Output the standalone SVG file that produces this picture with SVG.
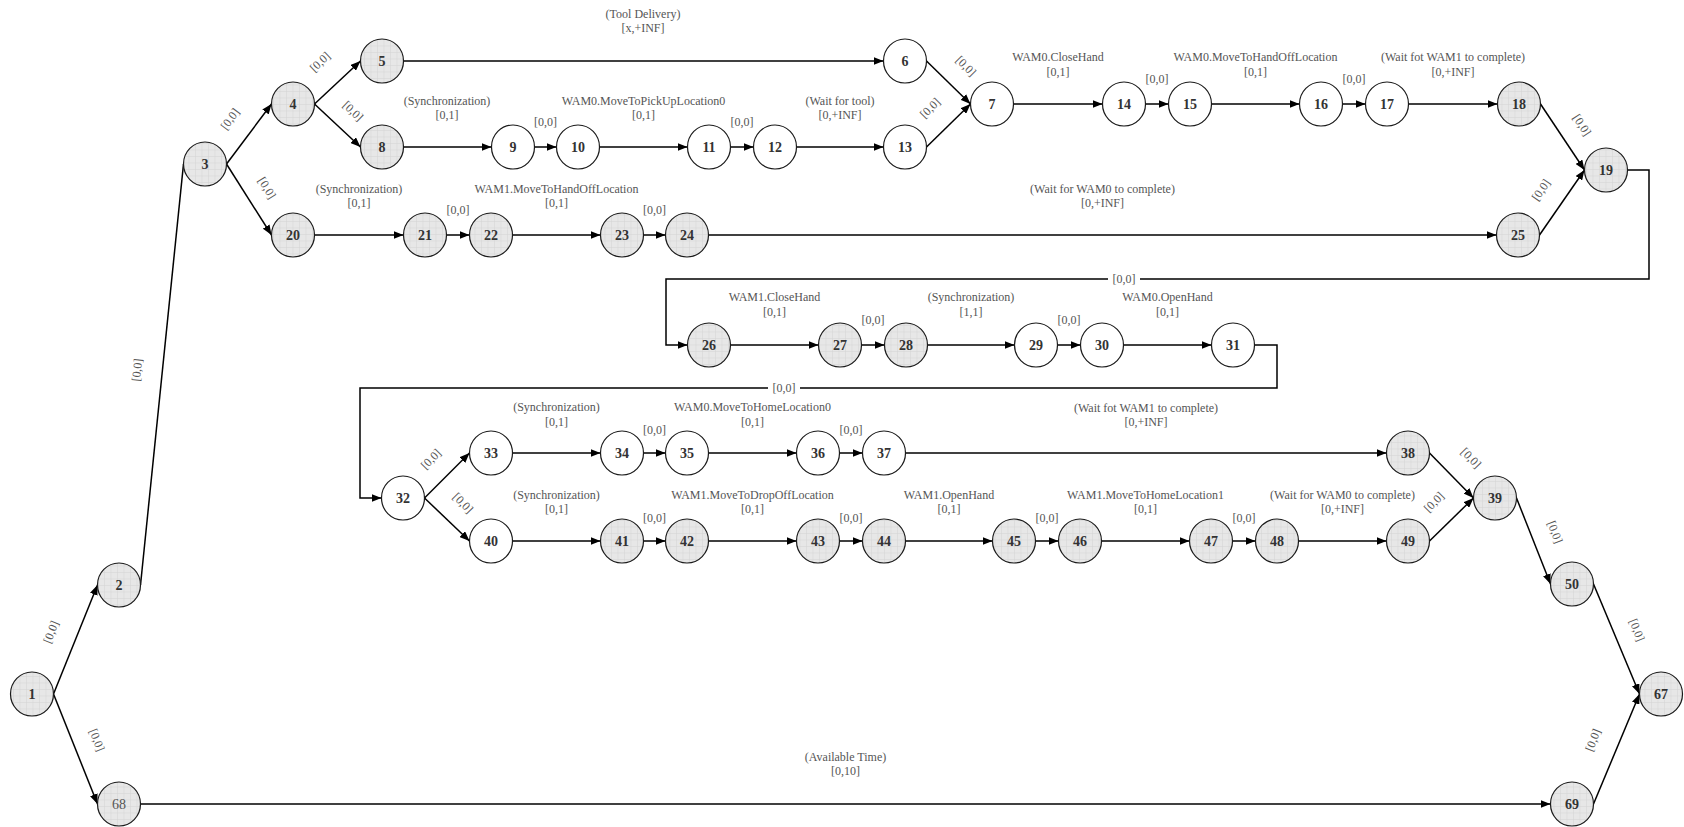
<svg xmlns="http://www.w3.org/2000/svg" width="1684" height="827" viewBox="0 0 1684 827">
<style>
.g ellipse{fill:url(#grid)}
.w ellipse{fill:#fff}
ellipse{stroke:#1a1a1a;stroke-width:1.2}
.nl{font-family:"Liberation Serif","Times New Roman",serif;font-size:14px;font-weight:bold;fill:#333;text-anchor:middle}
.nl2{font-family:"Liberation Serif","Times New Roman",serif;font-size:14px;fill:#555;text-anchor:middle}
.el{font-family:"Liberation Serif","Times New Roman",serif;font-size:12px;fill:#555;text-anchor:middle}
.e{stroke:#000;stroke-width:1.5;fill:none;marker-end:url(#arr)}
.e0{stroke:#000;stroke-width:1.5;fill:none}
</style>
<defs>
<pattern id="grid" width="6.5" height="6.5" patternUnits="userSpaceOnUse">
<rect width="6.5" height="6.5" fill="#e7e7e7"/>
<path d="M0,0.3H6.5M0.3,0V6.5" stroke="#d3d3d3" stroke-width="0.6"/>
</pattern>
<marker id="arr" markerUnits="userSpaceOnUse" markerWidth="10" markerHeight="8" refX="10" refY="4" orient="auto">
<path d="M0,0L10,4L0,8z" fill="#000"/>
</marker>
</defs>
<rect width="1684" height="827" fill="#fff"/>

<g id="connectors">
<path class="e" d="M53.5,694L97.5,585"/>
<path class="e" d="M53.5,694L97.5,804"/>
<path class="e0" d="M140.5,585L183.5,164"/>
<path class="e" d="M226.5,164L271.5,104"/>
<path class="e" d="M226.5,164L271.5,235"/>
<path class="e" d="M314.5,104L360.5,61"/>
<path class="e" d="M314.5,104L360.5,147"/>
<path class="e" d="M403.5,61H883.5"/>
<path class="e" d="M403.5,147H491.5"/>
<path class="e" d="M534.5,147H556.5"/>
<path class="e" d="M599.5,147H687.5"/>
<path class="e" d="M730.5,147H753.5"/>
<path class="e" d="M796.5,147H883.5"/>
<path class="e" d="M926.5,61L970.5,104"/>
<path class="e" d="M926.5,147L970.5,104"/>
<path class="e" d="M1013.5,104H1102.5"/>
<path class="e" d="M1145.5,104H1168.5"/>
<path class="e" d="M1211.5,104H1299.5"/>
<path class="e" d="M1342.5,104H1365.5"/>
<path class="e" d="M1408.5,104H1497.5"/>
<path class="e" d="M1540.5,104L1584.5,170"/>
<path class="e" d="M314.5,235H403.5"/>
<path class="e" d="M446.5,235H469.5"/>
<path class="e" d="M512.5,235H600.5"/>
<path class="e" d="M643.5,235H665.5"/>
<path class="e" d="M708.5,235H1496.5"/>
<path class="e" d="M1539.5,235L1584.5,170"/>
<path class="e" d="M1627.5,170H1649V279H666V345H687.5"/>
<path class="e" d="M730.5,345H818.5"/>
<path class="e" d="M861.5,345H884.5"/>
<path class="e" d="M927.5,345H1014.5"/>
<path class="e" d="M1057.5,345H1080.5"/>
<path class="e" d="M1123.5,345H1211.5"/>
<path class="e" d="M1254.5,345H1277V388H360V498H381.5"/>
<path class="e" d="M424.5,498L469.5,453"/>
<path class="e" d="M424.5,498L469.5,541"/>
<path class="e" d="M512.5,453H600.5"/>
<path class="e" d="M643.5,453H665.5"/>
<path class="e" d="M708.5,453H796.5"/>
<path class="e" d="M839.5,453H862.5"/>
<path class="e" d="M905.5,453H1386.5"/>
<path class="e" d="M1429.5,453L1473.5,498"/>
<path class="e" d="M512.5,541H600.5"/>
<path class="e" d="M643.5,541H665.5"/>
<path class="e" d="M708.5,541H796.5"/>
<path class="e" d="M839.5,541H862.5"/>
<path class="e" d="M905.5,541H992.5"/>
<path class="e" d="M1035.5,541H1058.5"/>
<path class="e" d="M1101.5,541H1189.5"/>
<path class="e" d="M1232.5,541H1255.5"/>
<path class="e" d="M1298.5,541H1386.5"/>
<path class="e" d="M1429.5,541L1473.5,498"/>
<path class="e" d="M1516.5,498L1550.5,584"/>
<path class="e" d="M1593.5,584L1639.5,694"/>
<path class="e" d="M140.5,804H1550.5"/>
<path class="e" d="M1593.5,804L1639.5,694"/>
</g>

<g id="edge-labels">
<text class="el" x="643" y="18">(Tool Delivery)</text>
<text class="el" x="643" y="32">[x,+INF]</text>
<text class="el" x="447" y="105">(Synchronization)</text>
<text class="el" x="447" y="119">[0,1]</text>
<text class="el" x="545.5" y="126">[0,0]</text>
<text class="el" x="643.5" y="105">WAM0.MoveToPickUpLocation0</text>
<text class="el" x="643.5" y="119">[0,1]</text>
<text class="el" x="742" y="126">[0,0]</text>
<text class="el" x="840" y="105">(Wait for tool)</text>
<text class="el" x="840" y="119">[0,+INF]</text>
<text class="el" x="1058" y="61">WAM0.CloseHand</text>
<text class="el" x="1058" y="76">[0,1]</text>
<text class="el" x="1157" y="83">[0,0]</text>
<text class="el" x="1255.5" y="61">WAM0.MoveToHandOffLocation</text>
<text class="el" x="1255.5" y="76">[0,1]</text>
<text class="el" x="1354" y="83">[0,0]</text>
<text class="el" x="1453" y="61">(Wait fot WAM1 to complete)</text>
<text class="el" x="1453" y="76">[0,+INF]</text>
<text class="el" x="359" y="193">(Synchronization)</text>
<text class="el" x="359" y="207">[0,1]</text>
<text class="el" x="458" y="214">[0,0]</text>
<text class="el" x="556.5" y="193">WAM1.MoveToHandOffLocation</text>
<text class="el" x="556.5" y="207">[0,1]</text>
<text class="el" x="654.5" y="214">[0,0]</text>
<text class="el" x="1102.5" y="193">(Wait for WAM0 to complete)</text>
<text class="el" x="1102.5" y="207">[0,+INF]</text>
<rect x="1108" y="272" width="32" height="14" fill="#fff"/>
<text class="el" x="1124" y="283">[0,0]</text>
<text class="el" x="774.5" y="301">WAM1.CloseHand</text>
<text class="el" x="774.5" y="316">[0,1]</text>
<text class="el" x="873" y="324">[0,0]</text>
<text class="el" x="971" y="301">(Synchronization)</text>
<text class="el" x="971" y="316">[1,1]</text>
<text class="el" x="1069" y="324">[0,0]</text>
<text class="el" x="1167.5" y="301">WAM0.OpenHand</text>
<text class="el" x="1167.5" y="316">[0,1]</text>
<rect x="768" y="381" width="32" height="14" fill="#fff"/>
<text class="el" x="784" y="392">[0,0]</text>
<text class="el" x="556.5" y="411">(Synchronization)</text>
<text class="el" x="556.5" y="426">[0,1]</text>
<text class="el" x="654.5" y="434">[0,0]</text>
<text class="el" x="752.5" y="411">WAM0.MoveToHomeLocation0</text>
<text class="el" x="752.5" y="426">[0,1]</text>
<text class="el" x="851" y="434">[0,0]</text>
<text class="el" x="1146" y="412">(Wait fot WAM1 to complete)</text>
<text class="el" x="1146" y="426">[0,+INF]</text>
<text class="el" x="556.5" y="499">(Synchronization)</text>
<text class="el" x="556.5" y="513">[0,1]</text>
<text class="el" x="654.5" y="522">[0,0]</text>
<text class="el" x="752.5" y="499">WAM1.MoveToDropOffLocation</text>
<text class="el" x="752.5" y="513">[0,1]</text>
<text class="el" x="851" y="522">[0,0]</text>
<text class="el" x="949" y="499">WAM1.OpenHand</text>
<text class="el" x="949" y="513">[0,1]</text>
<text class="el" x="1047" y="522">[0,0]</text>
<text class="el" x="1145.5" y="499">WAM1.MoveToHomeLocation1</text>
<text class="el" x="1145.5" y="513">[0,1]</text>
<text class="el" x="1244" y="522">[0,0]</text>
<text class="el" x="1342.5" y="499">(Wait for WAM0 to complete)</text>
<text class="el" x="1342.5" y="513">[0,+INF]</text>
<text class="el" x="845.5" y="761">(Available Time)</text>
<text class="el" x="845.5" y="775">[0,10]</text>
<text class="el" transform="translate(51,632) rotate(-68.5)" y="4">[0,0]</text>
<text class="el" transform="translate(97,740) rotate(68.6)" y="4">[0,0]</text>
<text class="el" transform="translate(137,370) rotate(-84.3)" y="4">[0,0]</text>
<text class="el" transform="translate(230,119) rotate(-53.7)" y="4">[0,0]</text>
<text class="el" transform="translate(267,188) rotate(58.2)" y="4">[0,0]</text>
<text class="el" transform="translate(320,62) rotate(-43.7)" y="4">[0,0]</text>
<text class="el" transform="translate(353,111) rotate(43.7)" y="4">[0,0]</text>
<text class="el" transform="translate(966,66) rotate(45)" y="4">[0,0]</text>
<text class="el" transform="translate(930,108) rotate(-45)" y="4">[0,0]</text>
<text class="el" transform="translate(1582,125) rotate(56.9)" y="4">[0,0]</text>
<text class="el" transform="translate(1541,190) rotate(-55.5)" y="4">[0,0]</text>
<text class="el" transform="translate(431,459) rotate(-45.6)" y="4">[0,0]</text>
<text class="el" transform="translate(463,503) rotate(45.6)" y="4">[0,0]</text>
<text class="el" transform="translate(1471,458) rotate(45.6)" y="4">[0,0]</text>
<text class="el" transform="translate(1434,502) rotate(-45.6)" y="4">[0,0]</text>
<text class="el" transform="translate(1555,532) rotate(69)" y="4">[0,0]</text>
<text class="el" transform="translate(1637,630) rotate(68.6)" y="4">[0,0]</text>
<text class="el" transform="translate(1593,740) rotate(-68.6)" y="4">[0,0]</text>
</g>

<g id="n1" class="g"><ellipse cx="32" cy="694" rx="21.5" ry="22"/><text class="nl" x="32" y="699">1</text></g>
<g id="n2" class="g"><ellipse cx="119" cy="585" rx="21.5" ry="22"/><text class="nl" x="119" y="590">2</text></g>
<g id="n68" class="g"><ellipse cx="119" cy="804" rx="21.5" ry="22"/><text class="nl2" x="119" y="809">68</text></g>
<g id="n3" class="g"><ellipse cx="205" cy="164" rx="21.5" ry="22"/><text class="nl" x="205" y="169">3</text></g>
<g id="n4" class="g"><ellipse cx="293" cy="104" rx="21.5" ry="22"/><text class="nl" x="293" y="109">4</text></g>
<g id="n5" class="g"><ellipse cx="382" cy="61" rx="21.5" ry="22"/><text class="nl" x="382" y="66">5</text></g>
<g id="n8" class="g"><ellipse cx="382" cy="147" rx="21.5" ry="22"/><text class="nl" x="382" y="152">8</text></g>
<g id="n20" class="g"><ellipse cx="293" cy="235" rx="21.5" ry="22"/><text class="nl" x="293" y="240">20</text></g>
<g id="n9" class="w"><ellipse cx="513" cy="147" rx="21.5" ry="22"/><text class="nl" x="513" y="152">9</text></g>
<g id="n10" class="w"><ellipse cx="578" cy="147" rx="21.5" ry="22"/><text class="nl" x="578" y="152">10</text></g>
<g id="n11" class="w"><ellipse cx="709" cy="147" rx="21.5" ry="22"/><text class="nl" x="709" y="152">11</text></g>
<g id="n12" class="w"><ellipse cx="775" cy="147" rx="21.5" ry="22"/><text class="nl" x="775" y="152">12</text></g>
<g id="n13" class="w"><ellipse cx="905" cy="147" rx="21.5" ry="22"/><text class="nl" x="905" y="152">13</text></g>
<g id="n6" class="w"><ellipse cx="905" cy="61" rx="21.5" ry="22"/><text class="nl" x="905" y="66">6</text></g>
<g id="n7" class="w"><ellipse cx="992" cy="104" rx="21.5" ry="22"/><text class="nl" x="992" y="109">7</text></g>
<g id="n14" class="w"><ellipse cx="1124" cy="104" rx="21.5" ry="22"/><text class="nl" x="1124" y="109">14</text></g>
<g id="n15" class="w"><ellipse cx="1190" cy="104" rx="21.5" ry="22"/><text class="nl" x="1190" y="109">15</text></g>
<g id="n16" class="w"><ellipse cx="1321" cy="104" rx="21.5" ry="22"/><text class="nl" x="1321" y="109">16</text></g>
<g id="n17" class="w"><ellipse cx="1387" cy="104" rx="21.5" ry="22"/><text class="nl" x="1387" y="109">17</text></g>
<g id="n18" class="g"><ellipse cx="1519" cy="104" rx="21.5" ry="22"/><text class="nl" x="1519" y="109">18</text></g>
<g id="n19" class="g"><ellipse cx="1606" cy="170" rx="21.5" ry="22"/><text class="nl" x="1606" y="175">19</text></g>
<g id="n25" class="g"><ellipse cx="1518" cy="235" rx="21.5" ry="22"/><text class="nl" x="1518" y="240">25</text></g>
<g id="n21" class="g"><ellipse cx="425" cy="235" rx="21.5" ry="22"/><text class="nl" x="425" y="240">21</text></g>
<g id="n22" class="g"><ellipse cx="491" cy="235" rx="21.5" ry="22"/><text class="nl" x="491" y="240">22</text></g>
<g id="n23" class="g"><ellipse cx="622" cy="235" rx="21.5" ry="22"/><text class="nl" x="622" y="240">23</text></g>
<g id="n24" class="g"><ellipse cx="687" cy="235" rx="21.5" ry="22"/><text class="nl" x="687" y="240">24</text></g>
<g id="n26" class="g"><ellipse cx="709" cy="345" rx="21.5" ry="22"/><text class="nl" x="709" y="350">26</text></g>
<g id="n27" class="g"><ellipse cx="840" cy="345" rx="21.5" ry="22"/><text class="nl" x="840" y="350">27</text></g>
<g id="n28" class="g"><ellipse cx="906" cy="345" rx="21.5" ry="22"/><text class="nl" x="906" y="350">28</text></g>
<g id="n29" class="w"><ellipse cx="1036" cy="345" rx="21.5" ry="22"/><text class="nl" x="1036" y="350">29</text></g>
<g id="n30" class="w"><ellipse cx="1102" cy="345" rx="21.5" ry="22"/><text class="nl" x="1102" y="350">30</text></g>
<g id="n31" class="w"><ellipse cx="1233" cy="345" rx="21.5" ry="22"/><text class="nl" x="1233" y="350">31</text></g>
<g id="n32" class="w"><ellipse cx="403" cy="498" rx="21.5" ry="22"/><text class="nl" x="403" y="503">32</text></g>
<g id="n33" class="w"><ellipse cx="491" cy="453" rx="21.5" ry="22"/><text class="nl" x="491" y="458">33</text></g>
<g id="n34" class="w"><ellipse cx="622" cy="453" rx="21.5" ry="22"/><text class="nl" x="622" y="458">34</text></g>
<g id="n35" class="w"><ellipse cx="687" cy="453" rx="21.5" ry="22"/><text class="nl" x="687" y="458">35</text></g>
<g id="n36" class="w"><ellipse cx="818" cy="453" rx="21.5" ry="22"/><text class="nl" x="818" y="458">36</text></g>
<g id="n37" class="w"><ellipse cx="884" cy="453" rx="21.5" ry="22"/><text class="nl" x="884" y="458">37</text></g>
<g id="n38" class="g"><ellipse cx="1408" cy="453" rx="21.5" ry="22"/><text class="nl" x="1408" y="458">38</text></g>
<g id="n39" class="g"><ellipse cx="1495" cy="498" rx="21.5" ry="22"/><text class="nl" x="1495" y="503">39</text></g>
<g id="n40" class="w"><ellipse cx="491" cy="541" rx="21.5" ry="22"/><text class="nl" x="491" y="546">40</text></g>
<g id="n41" class="g"><ellipse cx="622" cy="541" rx="21.5" ry="22"/><text class="nl" x="622" y="546">41</text></g>
<g id="n42" class="g"><ellipse cx="687" cy="541" rx="21.5" ry="22"/><text class="nl" x="687" y="546">42</text></g>
<g id="n43" class="g"><ellipse cx="818" cy="541" rx="21.5" ry="22"/><text class="nl" x="818" y="546">43</text></g>
<g id="n44" class="g"><ellipse cx="884" cy="541" rx="21.5" ry="22"/><text class="nl" x="884" y="546">44</text></g>
<g id="n45" class="g"><ellipse cx="1014" cy="541" rx="21.5" ry="22"/><text class="nl" x="1014" y="546">45</text></g>
<g id="n46" class="g"><ellipse cx="1080" cy="541" rx="21.5" ry="22"/><text class="nl" x="1080" y="546">46</text></g>
<g id="n47" class="g"><ellipse cx="1211" cy="541" rx="21.5" ry="22"/><text class="nl" x="1211" y="546">47</text></g>
<g id="n48" class="g"><ellipse cx="1277" cy="541" rx="21.5" ry="22"/><text class="nl" x="1277" y="546">48</text></g>
<g id="n49" class="g"><ellipse cx="1408" cy="541" rx="21.5" ry="22"/><text class="nl" x="1408" y="546">49</text></g>
<g id="n50" class="g"><ellipse cx="1572" cy="584" rx="21.5" ry="22"/><text class="nl" x="1572" y="589">50</text></g>
<g id="n67" class="g"><ellipse cx="1661" cy="694" rx="21.5" ry="22"/><text class="nl" x="1661" y="699">67</text></g>
<g id="n69" class="g"><ellipse cx="1572" cy="804" rx="21.5" ry="22"/><text class="nl" x="1572" y="809">69</text></g>
</svg>
